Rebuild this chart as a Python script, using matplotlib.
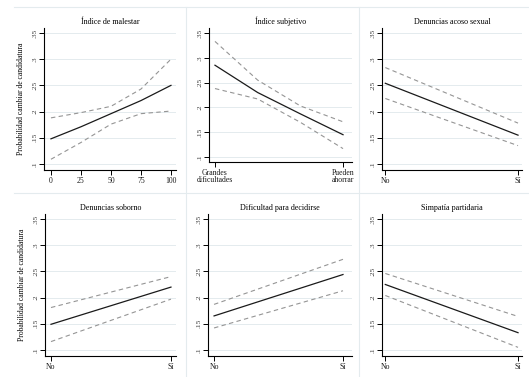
import matplotlib.pyplot as plt
from matplotlib.lines import Line2D

# --- data ---
malestar_x = [0, 25, 50, 75, 100]
malestar_est = [0.148, 0.171, 0.196, 0.221, 0.250]
malestar_hi = [0.188, 0.198, 0.210, 0.243, 0.300]
malestar_lo = [0.109, 0.141, 0.176, 0.196, 0.201]

subjetivo_x = [1, 2, 3, 4]
subjetivo_est = [0.285, 0.230, 0.187, 0.145]
subjetivo_hi = [0.333, 0.255, 0.203, 0.171]
subjetivo_lo = [0.238, 0.217, 0.170, 0.117]

binary_x = [0, 1]
acoso_est = [0.254, 0.155]
acoso_hi = [0.284, 0.178]
acoso_lo = [0.225, 0.135]

soborno_est = [0.149, 0.220]
soborno_hi = [0.181, 0.240]
soborno_lo = [0.116, 0.197]

dificultad_est = [0.165, 0.244]
dificultad_hi = [0.187, 0.273]
dificultad_lo = [0.142, 0.213]

simpatia_est = [0.225, 0.133]
simpatia_hi = [0.246, 0.164]
simpatia_lo = [0.204, 0.105]

y_ticks = [0.1, 0.15, 0.2, 0.25, 0.3, 0.35]
y_ticklabels = [".1", ".15", ".2", ".25", ".3", ".35"]
ylabel = "Probabilidad cambiar de candidatura"

W, H = 529, 377
plt.rcParams['font.family'] = ['Liberation Serif', 'DejaVu Serif']
fig = plt.figure(figsize=(W / 100, H / 100), dpi=100)
fig.patch.set_facecolor('white')


def px_axes(left, top, right, bottom):
    return fig.add_axes([left / W, 1 - bottom / H, (right - left) / W, (bottom - top) / H])


grid_c = '#e4ebee'

# faint panel borders
for yy in [7, 193]:
    fig.add_artist(Line2D([14 / W, 1], [1 - yy / H, 1 - yy / H], color=grid_c, lw=0.8))
for xx in [186, 359]:
    fig.add_artist(Line2D([xx / W, xx / W], [1 - 7 / H, 0], color=grid_c, lw=0.8))

panels = [
    # title, x, est, hi, lo, box(px), xlim, xticks, xticklabels
    ("Índice de malestar", malestar_x, malestar_est, malestar_hi, malestar_lo,
     (44, 28, 176, 170), (-5.8, 104.2), [0, 25, 50, 75, 100], ["0", "25", "50", "75", "100"]),
    ("Índice subjetivo", subjetivo_x, subjetivo_est, subjetivo_hi, subjetivo_lo,
     (209, 28, 352, 162), (0.86, 4.21), [1, 4], ["Grandes\ndificultades", "Pueden\nahorrar"]),
    ("Denuncias acoso sexual", binary_x, acoso_est, acoso_hi, acoso_lo,
     (382, 28, 522, 170), (-0.025, 1.03), [0, 1], ["No", "Sí"]),
    ("Denuncias soborno", binary_x, soborno_est, soborno_hi, soborno_lo,
     (45, 214, 176, 356), (-0.05, 1.042), [0, 1], ["No", "Sí"]),
    ("Dificultad para decidirse", binary_x, dificultad_est, dificultad_hi, dificultad_lo,
     (208, 214, 352, 356), (-0.047, 1.07), [0, 1], ["No", "Sí"]),
    ("Simpatía partidaria", binary_x, simpatia_est, simpatia_hi, simpatia_lo,
     (382, 214, 522, 356), (-0.025, 1.03), [0, 1], ["No", "Sí"]),
]

for i, (title, x, est, hi, lo, box, xlim, xt, xtl) in enumerate(panels):
    ax = px_axes(*box)
    # keep .1 -> .35 spacing; panel 2 is squeezed a bit by its two-line labels
    if i == 1:
        ax.set_ylim(0.09, 0.36)
    else:
        ax.set_ylim(0.0885, 0.3595)
    ax.set_xlim(*xlim)
    ax.plot(x, hi, color='#959595', lw=0.8, dashes=(4, 3))
    ax.plot(x, lo, color='#959595', lw=0.8, dashes=(4, 3))
    ax.plot(x, est, color='#1a1a1a', lw=0.9)
    ax.set_yticks(y_ticks)
    ax.set_yticklabels(y_ticklabels, rotation=90, va='center', fontsize=5.3, color='#3a3a3a')
    ax.set_xticks(xt)
    ax.set_xticklabels(xtl, fontsize=5.6, color='#1a1a1a', linespacing=0.85)
    ax.grid(axis='y', color=grid_c, lw=0.7)
    ax.set_axisbelow(True)
    for s in ['top', 'right']:
        ax.spines[s].set_visible(False)
    for s in ['left', 'bottom']:
        ax.spines[s].set_linewidth(0.8)
    ax.tick_params(direction='out', length=3.5, width=0.7, pad=1.5)
    ax.set_title(title, fontsize=5.8, pad=3)
    if i % 3 == 0:
        ax.set_ylabel(ylabel, fontsize=5.5, labelpad=5)

fig.savefig('out.png', dpi=100, facecolor='white')
